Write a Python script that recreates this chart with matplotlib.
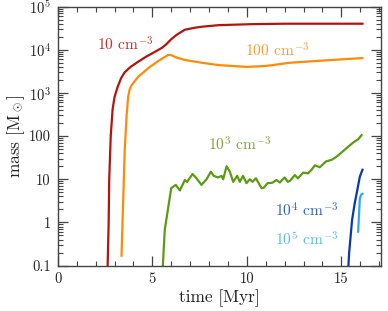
import matplotlib
matplotlib.use("Agg")
import matplotlib.pyplot as plt
from matplotlib.ticker import LogLocator, FixedLocator, MultipleLocator, NullFormatter

plt.rcParams['font.family'] = ['cmr10', 'DejaVu Serif']
plt.rcParams['mathtext.fontset'] = 'cm'
plt.rcParams['axes.unicode_minus'] = False

# 10 cm^-3
t_10 = [2.62, 2.69, 2.72, 2.80, 2.90, 3.00, 3.17, 3.35, 3.54, 3.85, 4.23, 4.7, 5.13, 5.5, 5.75, 6.0,
        6.28, 6.72, 7.2, 7.6, 8.5, 10.2, 12.0, 14.0, 16.12]
m_10 = [0.05, 1, 10, 100, 420, 800, 1400, 2200, 3000, 4000, 5200, 7000, 8900, 11000, 13500, 17500,
        22000, 29000, 32000, 34000, 37000, 39000, 40000, 40000, 40000]

# 100 cm^-3
t_100 = [3.37, 3.46, 3.54, 3.64, 3.72, 3.8, 3.9, 4.25, 4.87, 5.4, 5.84, 6.0, 6.2, 6.7, 7.6, 8.5,
         10.0, 11.0, 12.3, 14.0, 16.1]
m_100 = [0.17, 3.3, 48, 300, 800, 1200, 1500, 2360, 4000, 5800, 7600, 7500, 6800, 5800, 5000, 4400,
         4000, 4200, 5000, 5600, 6400]

# 10^3 cm^-3
t_1e3 = [5.52, 5.66, 6.0, 6.24, 6.46, 6.72, 6.84, 7.13, 7.34, 7.6, 7.87, 8.1, 8.25, 8.48, 8.66, 8.75,
         8.93, 9.1, 9.28, 9.49, 9.63, 9.8, 9.98, 10.16, 10.3, 10.48, 10.78, 10.9, 11.1, 11.35, 11.56,
         11.75, 12.0, 12.17, 12.3, 12.54, 12.7, 12.98, 13.24, 13.42, 13.6, 13.86, 14.2, 14.48, 14.74,
         15.1, 15.39, 15.65, 15.9, 16.07]
m_1e3 = [0.05, 0.68, 6.2, 7.4, 5.5, 9.6, 8.7, 13.2, 10.5, 7.4, 10, 15, 12, 11, 12, 10,
         20, 15, 8.7, 12, 8.7, 12, 8.1, 10, 8.7, 10.5, 6.2, 6.4, 8.1, 8.3, 9.6,
         8.4, 11, 8.7, 9.3, 12.5, 10.5, 14.2, 13.7, 16.5, 21, 19, 26, 28, 33,
         45, 58, 72, 85, 105]

# 10^4 cm^-3
t_1e4 = [15.34, 15.41, 15.49, 15.57, 15.71, 15.83, 15.98, 16.12]
m_1e4 = [0.05, 0.19, 0.47, 1.15, 2.8, 5.2, 11.5, 16.6]

# 10^5 cm^-3
t_1e5 = [15.89, 15.94, 15.98, 16.05, 16.12]
m_1e5 = [0.61, 1.63, 3.6, 4.4, 4.6]

series = [
    (t_10, m_10, '#b5130d'),
    (t_100, m_100, '#ff8a05'),
    (t_1e3, m_1e3, '#5c9a12'),
    (t_1e4, m_1e4, '#0b37a8'),
    (t_1e5, m_1e5, '#2ea6f5'),
]

labels = [
    (2.06, 1.3e4, r'10 cm$^{-3}$', '#c4302a'),
    (9.93, 9.8e3, r'100 cm$^{-3}$', '#ff9a30'),
    (7.94, 62, r'10$^3$ cm$^{-3}$', '#78a832'),
    (11.48, 1.87, r'10$^4$ cm$^{-3}$', '#3362c2'),
    (11.48, 0.41, r'10$^5$ cm$^{-3}$', '#5cbaf5'),
]

fig = plt.figure(figsize=(3.88, 3.11), dpi=100)
ax = fig.add_axes([0.149, 0.146, 0.833, 0.833])

for t, m, c in series:
    ax.plot(t, m, color=c, lw=1.6, solid_joinstyle='round')

for x, y, s, c in labels:
    ax.text(x, y, s, color=c, fontsize=11.2, ha='left', va='center')

ax.set_yscale('log')
ax.set_xlim(0, 17.1)
ax.set_ylim(0.1, 1e5)

ax.xaxis.set_major_locator(MultipleLocator(5))
ax.xaxis.set_minor_locator(MultipleLocator(1))
yticks = [0.1, 1, 10, 100, 1e3, 1e4, 1e5]
yticklabels = ['0.1', '1', '10', '100', r'10$^3$', r'10$^4$', r'10$^5$']
ax.yaxis.set_major_locator(FixedLocator(yticks))
ax.set_yticklabels(yticklabels)
ax.yaxis.set_minor_locator(LogLocator(base=10, subs=range(2, 10), numticks=20))
ax.yaxis.set_minor_formatter(NullFormatter())

ax.tick_params(which='both', direction='in', top=True, right=True, color='#444444',
               labelcolor='#222222', labelsize=10.5)
ax.tick_params(which='major', length=7, width=0.9, pad=5)
ax.tick_params(which='minor', length=3.5, width=0.8)
for sp in ax.spines.values():
    sp.set_color('#444444')
    sp.set_linewidth(1.0)

ax.set_xlabel('time [Myr]', fontsize=12.5, color='#222222', labelpad=2)
ax.set_ylabel(r'mass [M$_\odot$]', fontsize=12.5, color='#222222', labelpad=1)

fig.savefig('out.png', dpi=100)
